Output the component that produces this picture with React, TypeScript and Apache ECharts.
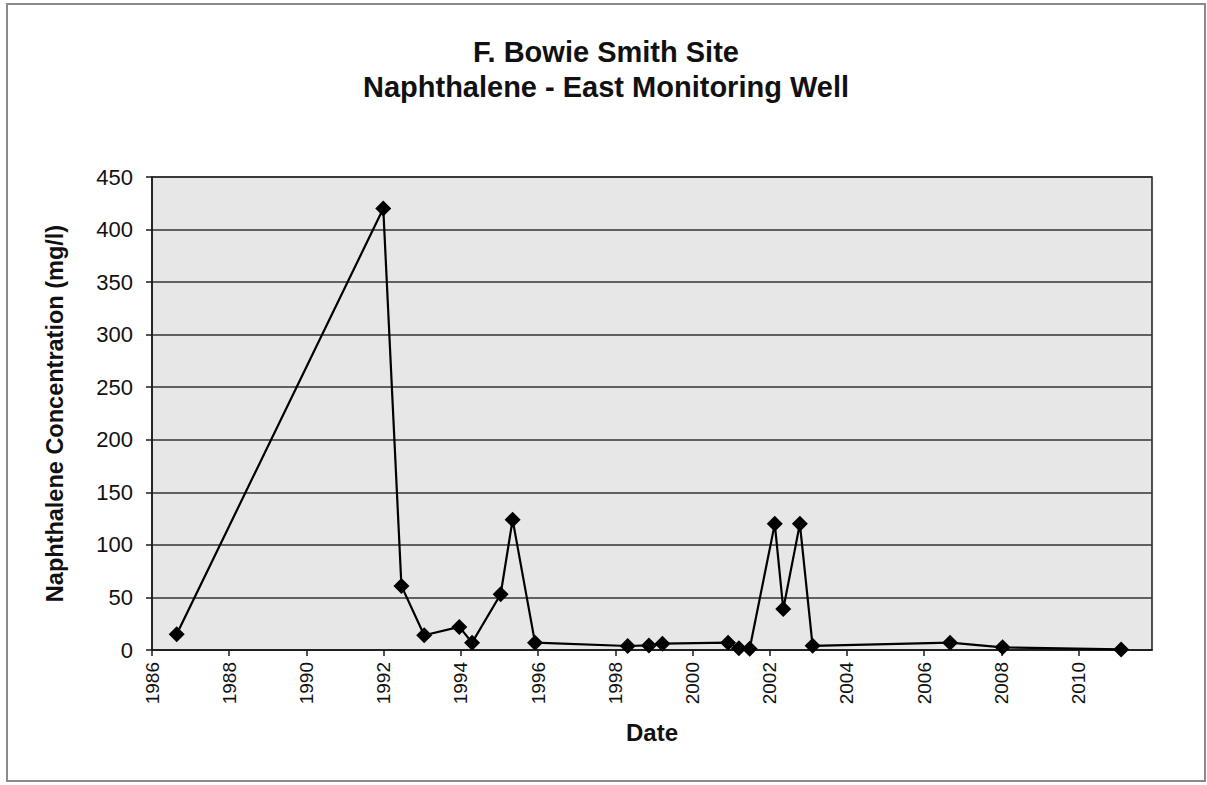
import React, { useEffect, useRef } from "react";
import * as echarts from "echarts";

const years = [
  1986.64, 1991.99, 1992.46, 1993.05, 1993.96, 1994.29, 1995.03, 1995.34, 1995.92,
  1998.32, 1998.87, 1999.22, 2000.92, 2001.2, 2001.48, 2002.13, 2002.35, 2002.78,
  2003.11, 2006.67, 2008.03, 2011.1,
];
const concentrations = [
  15, 420, 61, 14, 22, 7, 53, 124, 7,
  3.8, 4.4, 6, 7, 1.6, 1.2, 120, 39, 120,
  4, 7, 2.5, 0.5,
];
const yTicks = [0, 50, 100, 150, 200, 250, 300, 350, 400, 450];
const titleLines = ["F. Bowie Smith Site", "Naphthalene - East Monitoring Well"];

export default function App() {
  const ref = useRef<HTMLDivElement>(null);
  useEffect(() => {
    if (!ref.current) return;
    const chart = echarts.init(ref.current, null, { renderer: "svg" });
    const font = "'Liberation Sans', Arial, sans-serif";
    chart.setOption({
      animation: false,
      backgroundColor: "#ffffff",
      textStyle: { fontFamily: font },
      title: {
        text: titleLines.join("\n"),
        left: 601,
        textAlign: "center",
        top: 29,
        textStyle: { fontSize: 29, fontWeight: "bold", color: "#111", lineHeight: 35, fontFamily: font },
      },
      graphic: [
        {
          type: "rect",
          shape: { x: 7, y: 4, width: 1198, height: 777 },
          style: { fill: "none", stroke: "#8a8a8a", lineWidth: 2 },
          silent: true,
        },
      ],
      grid: {
        left: 152,
        right: 55,
        top: 177,
        bottom: 135,
        show: true,
        backgroundColor: "#e7e7e7",
        borderColor: "#1a1a1a",
        borderWidth: 1.5,
      },
      xAxis: {
        type: "value",
        min: 1986,
        max: 2011.9,
        interval: 2,
        name: "Date",
        nameLocation: "middle",
        nameGap: 70,
        nameTextStyle: { fontSize: 24, fontWeight: "bold", color: "#111", fontFamily: font },
        axisLine: { show: true, onZero: false, lineStyle: { color: "#1a1a1a", width: 1.5 } },
        axisTick: { show: true, length: 6, lineStyle: { color: "#1a1a1a", width: 1.5 } },
        splitLine: { show: false },
        axisLabel: {
          rotate: 90,
          margin: 12,
          fontSize: 19,
          color: "#111",
          fontFamily: font,
          showMaxLabel: false,
          formatter: (v: number) => (Math.abs(v - Math.round(v)) < 1e-6 && Math.round(v) % 2 === 0 ? String(Math.round(v)) : ""),
        },
      },
      yAxis: {
        type: "value",
        min: yTicks[0],
        max: yTicks[yTicks.length - 1],
        interval: 50,
        name: "Naphthalene Concentration (mg/l)",
        nameLocation: "middle",
        nameGap: 85,
        nameTextStyle: { fontSize: 23.5, fontWeight: "bold", color: "#111", fontFamily: font },
        axisLine: { show: true, lineStyle: { color: "#1a1a1a", width: 1.5 } },
        axisTick: { show: true, length: 6, lineStyle: { color: "#1a1a1a", width: 1.5 } },
        splitLine: { show: true, lineStyle: { color: "#333", width: 1.5 } },
        axisLabel: { fontSize: 22, color: "#111", margin: 19, fontFamily: font },
      },
      series: [
        {
          type: "line",
          data: years.map((y, i) => [y, concentrations[i]]),
          symbol: "diamond",
          symbolSize: 16,
          itemStyle: { color: "#000" },
          lineStyle: { color: "#000", width: 2.2 },
        },
      ],
    });
    return () => chart.dispose();
  }, []);
  return (
    <div
      ref={ref}
      style={{ position: "absolute", left: 0, top: 0, width: 1207, height: 785 }}
    />
  );
}
